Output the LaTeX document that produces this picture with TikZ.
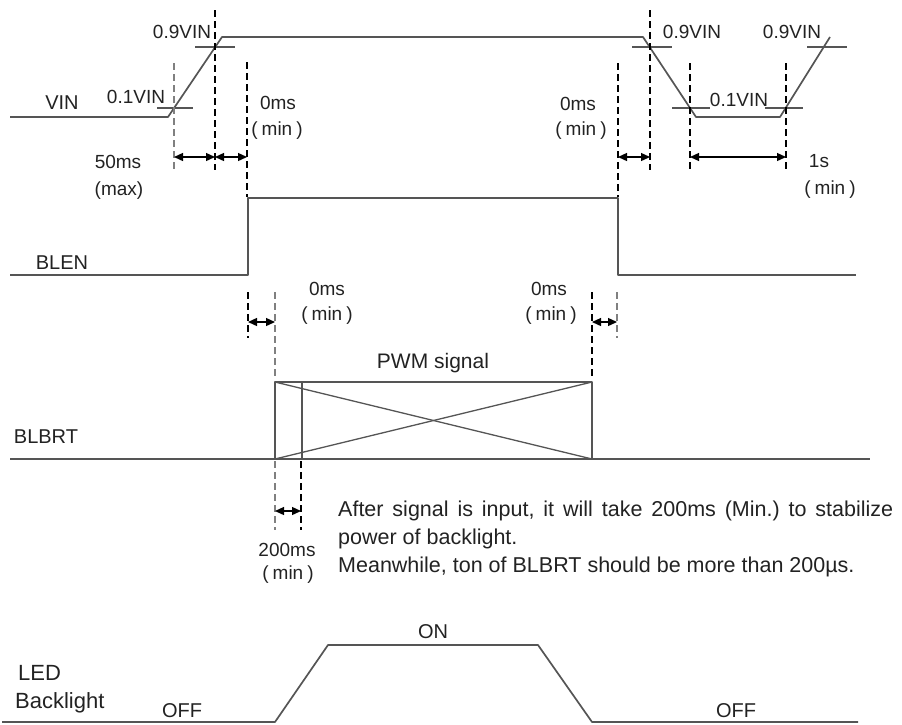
\documentclass[tikz,border=0pt]{standalone}
\usepackage{fontspec}
\setmainfont{Liberation Sans}
\usetikzlibrary{arrows.meta}
\definecolor{sigc}{HTML}{555555}
\definecolor{txtc}{HTML}{222222}
\frenchspacing
\begin{document}
\begin{tikzpicture}[x=1pt,y=-1pt,
 sig/.style={draw=sigc,line width=1.7pt,line join=round},
 tickline/.style={draw=sigc,line width=1.2pt},
 dthick/.style={draw=black,line width=2.2pt,dash pattern=on 7pt off 4pt},
 dthin/.style={draw=gray,line width=1.3pt,dash pattern=on 7pt off 4pt},
 dimline/.style={draw=black,line width=1.3pt,{Triangle[length=9pt,width=8pt]}-{Triangle[length=9pt,width=8pt]}},
 lbl/.style={text=txtc,inner sep=0pt,font=\fontsize{19}{21}\selectfont},
 sname/.style={text=txtc,inner sep=0pt,font=\fontsize{20}{22}\selectfont},
 bigtxt/.style={text=txtc,inner sep=0pt,anchor=base west,font=\fontsize{21.5}{23}\selectfont},
]
\useasboundingbox (0,0) rectangle (902,724);

% ---------- VIN ----------
\draw[sig] (10,117) -- (168,117) -- (222,37) -- (643,37) -- (696,117) -- (780,117) -- (830,37);
\draw[tickline] (157,108) -- (193,108);
\draw[tickline] (195,47) -- (235,47);
\draw[tickline] (632,47) -- (672,47);
\draw[tickline] (672,108) -- (710,108);
\draw[tickline] (765,108) -- (803,108);
\draw[tickline] (807,47) -- (847,47);

\coordinate (a1t) at (174,63);  \coordinate (a1b) at (174,170);
\coordinate (a2t) at (215,10);  \coordinate (a2b) at (215,170);
\coordinate (a3t) at (247,62);  \coordinate (a3b) at (247,197);
\coordinate (b1t) at (618,63);  \coordinate (b1b) at (618,197);
\coordinate (b2t) at (650,10);  \coordinate (b2b) at (650,170);
\coordinate (b3t) at (690,63);  \coordinate (b3b) at (690,170);
\coordinate (b4t) at (786,63);  \coordinate (b4b) at (786,170);
\draw[dthin] (a1t) -- (a1b);
\draw[dthick] (a2t) -- (a2b);
\draw[dthick] (a3t) -- (a3b);
\draw[dthick] (b1t) -- (b1b);
\draw[dthick] (b2t) -- (b2b);
\draw[dthick] (b3t) -- (b3b);
\draw[dthick] (b4t) -- (b4b);

\coordinate (r1) at (174,157); \coordinate (r2) at (215,157); \coordinate (r3) at (247,157);
\coordinate (s1) at (618,157); \coordinate (s2) at (650,157);
\coordinate (s3) at (690,157); \coordinate (s4) at (786,157);
\draw[dimline] (r1) -- (r2);
\draw[dimline] (r2) -- (r3);
\draw[dimline] (s1) -- (s2);
\draw[dimline] (s3) -- (s4);

\node[sname] (vin) at (62,103) {VIN};
\node[lbl] (n09a) at (182,32) {0.9VIN};
\node[lbl] (n01a) at (136,97) {0.1VIN};
\node[lbl] (t0a) at (278,103) {0ms};
\node[lbl] (m0a) at (277,131) {(\hspace{4pt}min\hspace{4pt})};
\node[lbl] (t50) at (118,162) {50ms};
\node[lbl] (mx50) at (119,191) {(max)};
\node[lbl] (n09b) at (692,32) {0.9VIN};
\node[lbl] (n09c) at (792,32) {0.9VIN};
\node[lbl] (n01b) at (739,100) {0.1VIN};
\node[lbl] (t0b) at (578,104) {0ms};
\node[lbl] (m0b) at (581,131) {(\hspace{4pt}min\hspace{4pt})};
\node[lbl] (t1s) at (819,161) {1s};
\node[lbl] (m1s) at (830,190) {(\hspace{4pt}min\hspace{4pt})};

% ---------- BLEN ----------
\draw[sig] (10,275) -- (248,275) -- (248,198) -- (618,198) -- (618,275) -- (856,275);
\node[sname] (blen) at (62,263) {BLEN};

\coordinate (c1t) at (248,292); \coordinate (c1b) at (248,338);
\coordinate (c2t) at (275,292); \coordinate (c2b) at (275,376);
\coordinate (c3t) at (592,292); \coordinate (c3b) at (592,376);
\coordinate (c4t) at (617,292); \coordinate (c4b) at (617,338);
\draw[dthick] (c1t) -- (c1b);
\draw[dthin] (c2t) -- (c2b);
\draw[dthick] (c3t) -- (c3b);
\draw[dthin] (c4t) -- (c4b);
\coordinate (q1) at (248,322); \coordinate (q2) at (275,322);
\coordinate (q3) at (592,322); \coordinate (q4) at (617,322);
\draw[dimline] (q1) -- (q2);
\draw[dimline] (q3) -- (q4);
\node[lbl] (t0c) at (327,289) {0ms};
\node[lbl] (m0c) at (327,316) {(\hspace{4pt}min\hspace{4pt})};
\node[lbl] (t0d) at (549,289) {0ms};
\node[lbl] (m0d) at (551,316) {(\hspace{4pt}min\hspace{4pt})};

% ---------- BLBRT ----------
\draw[sig] (10,459) -- (870,459);
\node[sname] (blbrt) at (46,437) {BLBRT};
\coordinate (p1) at (275,382); \coordinate (p2) at (592,382);
\coordinate (p3) at (592,459); \coordinate (p4) at (275,459);
\draw[sig,line width=1.3pt] (p1) -- (p2) -- (p3) -- (p4) -- cycle;
\draw[sig,line width=1.3pt] (302,382) -- (302,459);
\draw[sig,line width=1.3pt] (p1) -- (p3);
\draw[sig,line width=1.3pt] (p4) -- (p2);
\node[sname,font=\fontsize{21}{23}\selectfont] (pwm) at (433,363) {PWM signal};

\coordinate (d1t) at (275,461); \coordinate (d1b) at (275,530);
\coordinate (d2t) at (301,461); \coordinate (d2b) at (301,530);
\draw[dthin] (d1t) -- (d1b);
\draw[dthick] (d2t) -- (d2b);
\coordinate (e1) at (275,511); \coordinate (e2) at (301,511);
\draw[dimline] (e1) -- (e2);
\node[lbl] (t200) at (287,550) {200ms};
\node[lbl] (m200) at (288,575) {(\hspace{4pt}min\hspace{4pt})};

\node[bigtxt] (line1) at (338,516) {\makebox[555pt][s]{After signal is input, it will take 200ms (Min.) to stabilize}};
\node[bigtxt] (line2) at (338,544) {power of backlight.};
\node[bigtxt] (line3) at (338,572) {Meanwhile, ton of BLBRT should be more than 200µs.};

% ---------- LED Backlight ----------
\draw[sig] (2,722) -- (275,722) -- (328,645) -- (538,645) -- (592,722) -- (858,722);
\node[sname,anchor=base west,font=\fontsize{22}{24}\selectfont] (led) at (18,680) {LED};
\node[sname,anchor=base west,font=\fontsize{22}{24}\selectfont] (bkl) at (15,708) {Backlight};
\node[sname] (on) at (433,632) {ON};
\node[sname] (off1) at (182,711) {OFF};
\node[sname] (off2) at (736,711) {OFF};
\end{tikzpicture}
\end{document}
